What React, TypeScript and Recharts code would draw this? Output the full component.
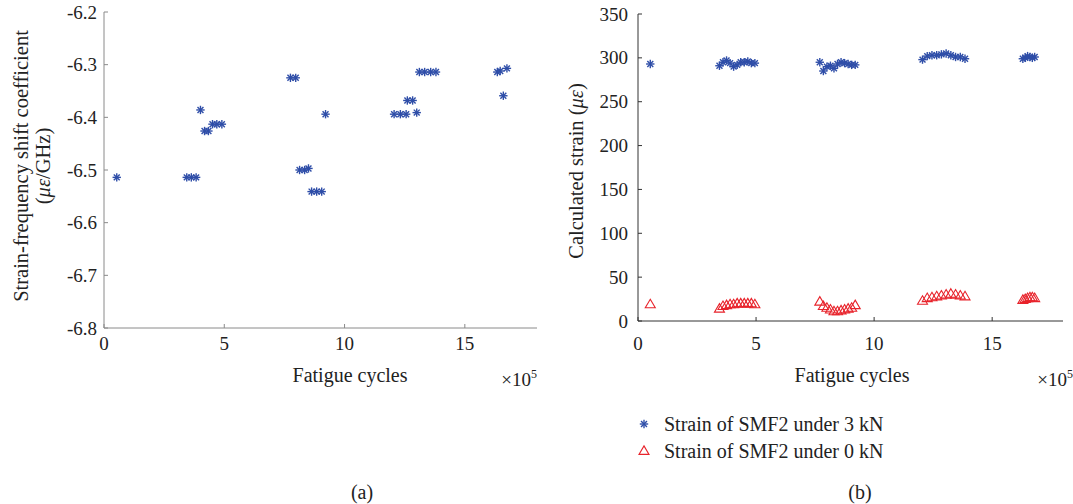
import React from "react";
import { ScatterChart, Scatter, XAxis, YAxis } from "recharts";

// ---------- data ----------
const coefCycles = [
  0.53, 3.44, 3.63, 3.83, 4.01, 4.18, 4.34, 4.51, 4.69, 4.9, 7.75, 7.97, 8.13, 8.34, 8.5,
  8.63, 8.84, 9.05, 9.21, 12.06, 12.32, 12.56, 12.61, 12.83, 13.0, 13.11, 13.33, 13.58,
  13.8, 16.35, 16.47, 16.6, 16.75,
];
const coefValues = [
  -6.514, -6.514, -6.514, -6.514, -6.386, -6.426, -6.426, -6.413, -6.413, -6.413, -6.325,
  -6.325, -6.5, -6.5, -6.497, -6.541, -6.541, -6.541, -6.394, -6.394, -6.394, -6.394,
  -6.368, -6.368, -6.391, -6.314, -6.314, -6.314, -6.314, -6.314, -6.312, -6.359, -6.307,
];

const strainCycles = [
  0.52, 3.45, 3.6, 3.75, 3.9, 4.05, 4.2, 4.35, 4.5, 4.65, 4.8, 4.95, 7.7, 7.85, 8.0, 8.15,
  8.3, 8.45, 8.6, 8.75, 8.9, 9.05, 9.2, 12.05, 12.25, 12.45, 12.65, 12.85, 13.05, 13.25,
  13.45, 13.65, 13.85, 16.3, 16.4, 16.5, 16.6, 16.7, 16.8,
];
const strain3kN = [
  293, 291, 295, 297, 294, 290, 292, 295, 295, 296, 294, 294, 295, 285, 290, 291, 288, 293,
  295, 294, 293, 292, 292, 298, 302, 303, 303, 304, 305, 303, 301, 301, 299, 299, 300, 302,
  301, 300, 301,
];
const strain0kN = [
  19, 14, 17, 18, 19, 19, 20, 20, 20, 20, 20, 19, 22, 17, 15, 13, 11, 11, 12, 13, 14, 15, 18,
  23, 26, 27, 28, 29, 30, 31, 30, 29, 28, 24, 25, 26, 27, 27, 26,
];

const xTicks = [0, 5, 10, 15];
const coefTicks = [-6.8, -6.7, -6.6, -6.5, -6.4, -6.3, -6.2];
const strainTicks = [0, 50, 100, 150, 200, 250, 300, 350];
const legendLabels = ["Strain of SMF2 under 3 kN", "Strain of SMF2 under 0 kN"];

const coefData = coefCycles.map((x, i) => ({ x, y: coefValues[i] }));
const data3 = strainCycles.map((x, i) => ({ x, y: strain3kN[i] }));
const data0 = strainCycles.map((x, i) => ({ x, y: strain0kN[i] }));

// ---------- styles ----------
const FONT = "'Liberation Serif', 'Times New Roman', serif";
const BLUE = "#2f4ea8";
const RED = "#e8232b";

const Star = (props: any) => {
  const { cx, cy } = props;
  if (cx == null || cy == null) return null;
  const r = 4.2;
  const d = r * 0.7071;
  return (
    <g stroke={BLUE} strokeWidth={1.4}>
      <line x1={cx - r} y1={cy} x2={cx + r} y2={cy} />
      <line x1={cx} y1={cy - r} x2={cx} y2={cy + r} />
      <line x1={cx - d} y1={cy - d} x2={cx + d} y2={cy + d} />
      <line x1={cx - d} y1={cy + d} x2={cx + d} y2={cy - d} />
    </g>
  );
};

const Tri = (props: any) => {
  const { cx, cy } = props;
  if (cx == null || cy == null) return null;
  const h = 8.5;
  const w = 10;
  return (
    <path
      d={`M${cx},${cy - h * 0.6} L${cx + w / 2},${cy + h * 0.4} L${cx - w / 2},${cy + h * 0.4} Z`}
      fill="none"
      stroke={RED}
      strokeWidth={1.1}
    />
  );
};

const makeTick = (side: "x" | "y", fmt: (v: number) => string) => (props: any) => {
  const { x, y, payload } = props;
  return (
    <text
      x={x}
      y={y}
      fontFamily={FONT}
      fontSize={19}
      fill="#222"
      textAnchor={side === "x" ? "middle" : "end"}
      dominantBaseline={side === "x" ? "hanging" : "central"}
    >
      {fmt(payload.value)}
    </text>
  );
};

const xTick = makeTick("x", (v) => String(v));
const coefTick = makeTick("y", (v) => v.toFixed(1));
const strainTick = makeTick("y", (v) => String(v));

export default function App() {
  return (
    <div style={{ position: "absolute", left: 0, top: 0, width: 1073, height: 504, background: "#fff", fontFamily: FONT }}>
      {/* (a) */}
      <div style={{ position: "absolute", left: 0, top: 0 }}>
        <ScatterChart width={560} height={504} margin={{ top: 12, right: 23, bottom: 116, left: 0 }}>
          <XAxis
            xAxisId="b"
            type="number"
            dataKey="x"
            domain={[0, 18]}
            ticks={xTicks}
            orientation="bottom"
            height={60}
            tickSize={-4}
            tickMargin={12}
            stroke="#8a8a8a"
            tick={xTick}
            allowDataOverflow
          />
          <XAxis
            xAxisId="t"
            type="number"
            dataKey="x"
            domain={[0, 18]}
            ticks={xTicks}
            orientation="top"
            height={0}
            tickSize={-4}
            tick={false}
            stroke="#8a8a8a"
            allowDataOverflow
          />
          <YAxis
            yAxisId="l"
            type="number"
            dataKey="y"
            domain={[-6.8, -6.2]}
            ticks={coefTicks}
            width={104}
            tickSize={-4}
            tickMargin={11}
            stroke="#8a8a8a"
            tick={coefTick}
            allowDataOverflow
          />
          <YAxis
            yAxisId="r"
            type="number"
            dataKey="y"
            domain={[-6.8, -6.2]}
            ticks={coefTicks}
            orientation="right"
            width={0}
            tickSize={-4}
            tick={false}
            stroke="#8a8a8a"
            allowDataOverflow
          />
          <Scatter xAxisId="b" yAxisId="l" data={coefData} shape={Star} isAnimationActive={false} />
          <Scatter xAxisId="t" yAxisId="r" data={coefData} shape={() => null} isAnimationActive={false} />
        </ScatterChart>
      </div>

      {/* (b) */}
      <div style={{ position: "absolute", left: 540, top: 0 }}>
        <ScatterChart width={533} height={504} margin={{ top: 14, right: 10, bottom: 123, left: 0 }}>
          <XAxis
            type="number"
            dataKey="x"
            domain={[0, 18]}
            ticks={xTicks}
            height={60}
            tickSize={-4}
            tickMargin={19}
            stroke="#333"
            tick={xTick}
            allowDataOverflow
          />
          <YAxis
            type="number"
            dataKey="y"
            domain={[0, 350]}
            ticks={strainTicks}
            width={98}
            tickSize={-4}
            tickMargin={14}
            stroke="#333"
            tick={strainTick}
            allowDataOverflow
          />
          <Scatter name={legendLabels[0]} data={data3} shape={Star} isAnimationActive={false} />
          <Scatter name={legendLabels[1]} data={data0} shape={Tri} isAnimationActive={false} />
        </ScatterChart>
      </div>

      {/* texts overlay */}
      <svg
        width={1073}
        height={504}
        style={{ position: "absolute", left: 0, top: 0, pointerEvents: "none" }}
        fontFamily={FONT}
        fill="#222"
      >
        <text x={21} y={166} fontSize={20.5} textAnchor="middle" dominantBaseline="central" transform="rotate(-90 21 166)">
          Strain-frequency shift coefficient
        </text>
        <text x={43} y={166} fontSize={20.5} textAnchor="middle" dominantBaseline="central" transform="rotate(-90 43 166)">
          (<tspan fontStyle="italic">με</tspan>/GHz)
        </text>
        <text x={576} y={171} fontSize={20.5} textAnchor="middle" dominantBaseline="central" transform="rotate(-90 576 171)">
          Calculated strain (<tspan fontStyle="italic">με</tspan>)
        </text>
        <text x={350} y={375} fontSize={20} textAnchor="middle" dominantBaseline="central">Fatigue cycles</text>
        <text x={852} y={375} fontSize={20} textAnchor="middle" dominantBaseline="central">Fatigue cycles</text>
        <text x={537} y={386} fontSize={19} textAnchor="end">
          ×10<tspan fontSize={12} dy={-8}>5</tspan>
        </text>
        <text x={1073} y={386} fontSize={19} textAnchor="end">
          ×10<tspan fontSize={12} dy={-8}>5</tspan>
        </text>
        <Star cx={644} cy={424} />
        <text x={664} y={424} fontSize={20} dominantBaseline="central">{legendLabels[0]}</text>
        <Tri cx={644} cy={451} />
        <text x={664} y={451} fontSize={20} dominantBaseline="central">{legendLabels[1]}</text>
        <text x={362} y={492} fontSize={20} textAnchor="middle" dominantBaseline="central">(a)</text>
        <text x={860} y={492} fontSize={20} textAnchor="middle" dominantBaseline="central">(b)</text>
      </svg>
    </div>
  );
}
